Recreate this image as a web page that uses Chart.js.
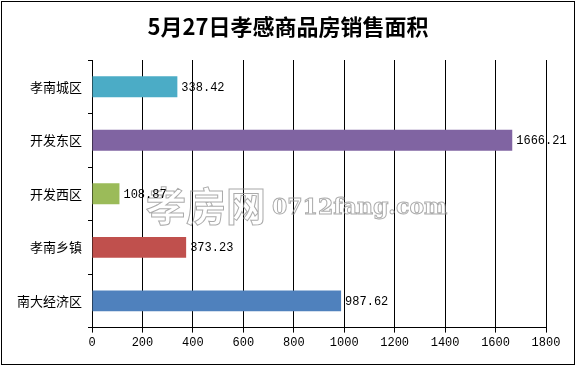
<!DOCTYPE html>
<html>
<head>
<meta charset="utf-8">
<script src="https://cdn.jsdelivr.net/npm/chart.js@4"></script>
<style>
  body { margin: 0; background: #fff; }
  canvas { display: block; }
</style>
</head>
<body>
<canvas id="area-chart" width="576" height="366"></canvas>
<script>
const districts = ["孝南城区", "开发东区", "开发西区", "孝南乡镇", "南大经济区"];
const areas = [338.42, 1666.21, 108.87, 373.23, 987.62];
const barColors = ["#4BACC6", "#8064A2", "#9BBB59", "#C0504D", "#4F81BD"];
const titleText = "5月27日孝感商品房销售面积";

// frame, title, value labels and the site watermark
const decor = {
    id: 'decor',
    beforeDraw(chart) {
        const ctx = chart.ctx;
        ctx.save();
        ctx.fillStyle = '#fff';
        ctx.fillRect(0, 0, chart.width, chart.height);
        ctx.restore();
    },
    afterDraw(chart) {
        const ctx = chart.ctx;
        ctx.save();
        ctx.strokeStyle = '#000';
        ctx.lineWidth = 1;
        ctx.strokeRect(1.5, 1.5, chart.width - 3, chart.height - 3);

        ctx.fillStyle = '#000';
        ctx.font = 'bold 22px "Noto Sans CJK SC"';
        ctx.textAlign = 'center';
        ctx.textBaseline = 'middle';
        ctx.fillText(titleText, 288, 27);

        // watermark
        ctx.strokeStyle = 'rgba(150,150,150,0.8)';
        ctx.lineWidth = 1;
        ctx.textAlign = 'left';
        ctx.font = 'bold 40px "Noto Sans CJK SC"';
        ctx.strokeText('孝房网', 146, 206);
        ctx.font = 'bold 22px "DejaVu Serif"';
        ctx.strokeText('0712fang.com', 272, 208);

        ctx.fillStyle = '#000';
        ctx.font = '12px "Liberation Mono"';
        ctx.textBaseline = 'middle';
        const meta = chart.getDatasetMeta(0);
        meta.data.forEach((bar, i) => {
            ctx.fillText(areas[i].toFixed(2), bar.x + 4, bar.y + 1);
        });
        ctx.restore();
    }
};

new Chart(document.querySelector('#area-chart'), {
    type: 'bar',
    data: {
        labels: districts,
        datasets: [{
            data: areas,
            backgroundColor: barColors,
            borderWidth: 0,
            categoryPercentage: 1,
            barPercentage: 0.39
        }]
    },
    options: {
        indexAxis: 'y',
        responsive: false,
        animation: false,
        layout: { padding: { top: 60, right: 30, left: 0, bottom: 13 } },
        plugins: {
            legend: { display: false },
            tooltip: { enabled: false }
        },
        scales: {
            x: {
                min: 0,
                max: 1800,
                ticks: {
                    stepSize: 200, color: '#000', maxRotation: 0,
                    font: { size: 12, family: 'Liberation Mono' }, padding: 3,
                    callback: v => String(v)
                },
                grid: { color: '#000', tickLength: 5, lineWidth: 1 },
                border: { color: '#000' }
            },
            y: {
                afterFit(scale) { scale.width = 92; },
                ticks: { color: '#000', autoSkip: false, font: { size: 13, family: 'Noto Sans CJK SC' }, padding: 6 },
                grid: { offset: true, drawOnChartArea: false, color: '#000', tickLength: 4 },
                border: { color: '#000' }
            }
        }
    },
    plugins: [decor]
});
</script>
</body>
</html>
